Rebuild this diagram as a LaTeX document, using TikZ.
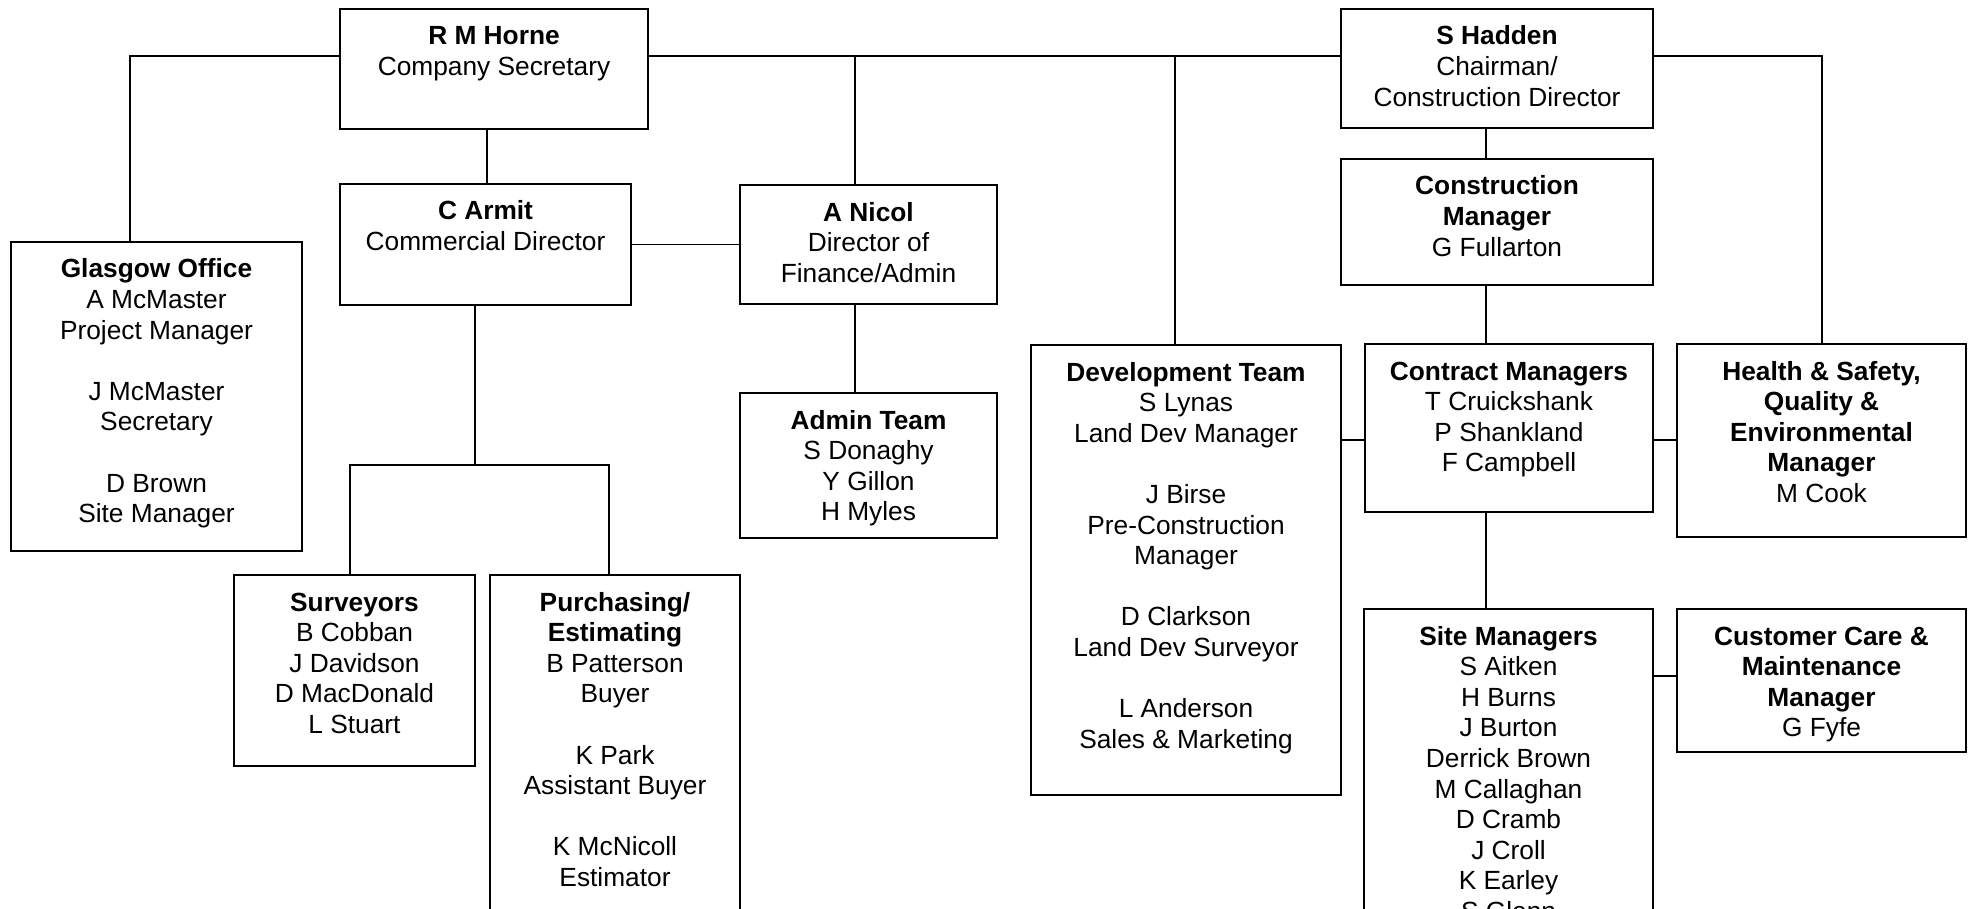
\documentclass[tikz,border=0pt]{standalone}
\usepackage{fontspec}
\setmainfont{Liberation Sans}
\usetikzlibrary{fit}
\tikzset{
  box/.style={draw=black, line width=1pt, inner sep=0pt},
  txt/.style={anchor=base, inner sep=0pt, font=\fontsize{13.15}{15.3}\selectfont},
  conn/.style={draw=black, line width=0.85pt},
}
\newcommand{\orgbox}[6]{%
  \node[box, fit={(#2,#3) (#4,#5)}] (#1) {};
  \node[txt] (#1t) at ([yshift=-18.5pt]#1.north) {\begin{tabular}[t]{@{}c@{}}#6\end{tabular}};
}
\begin{document}
\begin{tikzpicture}[x=0.5pt,y=-0.5pt]
\clip (0,0) rectangle (1969,909);
\fill[white] (0,0) rectangle (1969,909);

\orgbox{RMH}{340}{9}{648}{129}{\textbf{R M Horne}\\Company Secretary}
\orgbox{SH}{1341}{9}{1653}{128}{\textbf{S Hadden}\\Chairman/\\Construction Director}
\orgbox{CA}{340}{184}{631}{305}{\textbf{C Armit}\\Commercial Director}
\orgbox{AN}{740}{185}{997}{304}{\textbf{A Nicol}\\Director of\\Finance/Admin}
\orgbox{GL}{11}{242}{302}{551}{\textbf{Glasgow Office}\\A McMaster\\Project Manager\\ \\J McMaster\\Secretary\\ \\D Brown\\Site Manager}
\orgbox{AT}{740}{393}{997}{538}{\textbf{Admin Team}\\S Donaghy\\Y Gillon\\H Myles}
\orgbox{CM}{1341}{159}{1653}{285}{\textbf{Construction}\\\textbf{Manager}\\G Fullarton}
\orgbox{DT}{1031}{345}{1341}{795}{\textbf{Development Team}\\S Lynas\\Land Dev Manager\\ \\J Birse\\Pre-Construction\\Manager\\ \\D Clarkson\\Land Dev Surveyor\\ \\L Anderson\\Sales \& Marketing}
\orgbox{CTM}{1365}{344}{1653}{512}{\textbf{Contract Managers}\\T Cruickshank\\P Shankland\\F Campbell}
\orgbox{HS}{1677}{344}{1966}{537}{\textbf{Health \& Safety,}\\\textbf{Quality \&}\\\textbf{Environmental}\\\textbf{Manager}\\M Cook}
\orgbox{SV}{234}{575}{475}{766}{\textbf{Surveyors}\\B Cobban\\J Davidson\\D MacDonald\\L Stuart}
\orgbox{PU}{490}{575}{740}{960}{\textbf{Purchasing/}\\\textbf{Estimating}\\B Patterson\\Buyer\\ \\K Park\\Assistant Buyer\\ \\K McNicoll\\Estimator}
\orgbox{SM}{1364}{609}{1653}{980}{\textbf{Site Managers}\\S Aitken\\H Burns\\J Burton\\Derrick Brown\\M Callaghan\\D Cramb\\J Croll\\K Earley\\S Glenn}
\orgbox{CC}{1677}{609}{1966}{752}{\textbf{Customer Care \&}\\\textbf{Maintenance}\\\textbf{Manager}\\G Fyfe}

\coordinate (ty) at (0,56);
\coordinate (xg) at (130,0);
\coordinate (xan) at (855,0);
\coordinate (xdt) at (1175,0);
\coordinate (xhs) at (1822,0);
\coordinate (xrc) at (487,0);
\coordinate (xca) at (475,0);
\coordinate (yb) at (0,465);
\coordinate (xsv) at (350,0);
\coordinate (xpu) at (609,0);
\coordinate (xsh) at (1486,0);
\coordinate (ycm) at (0,440);
\coordinate (ysm) at (0,676);

\draw[conn] (GL.north -| xg) |- (RMH.west |- ty);
\draw[conn] (RMH.east |- ty) -- (SH.west |- ty);
\draw[conn] (xan |- ty) -- (AN.north -| xan);
\draw[conn] (xan |- AN.south) -- (AT.north -| xan);
\draw[conn] (xdt |- ty) -- (DT.north -| xdt);
\draw[conn] (SH.east |- ty) -| (HS.north -| xhs);
\draw[conn] (RMH.south -| xrc) -- (CA.north -| xrc);
\draw[conn] (CA.east) -- (AN.west);
\draw[conn] (CA.south -| xca) -- (xca |- yb);
\draw[conn] (SV.north -| xsv) |- (xpu |- yb) -- (PU.north -| xpu);
\draw[conn] (SH.south -| xsh) -- (CM.north -| xsh);
\draw[conn] (CM.south -| xsh) -- (CTM.north -| xsh);
\draw[conn] (CTM.south -| xsh) -- (SM.north -| xsh);
\draw[conn] (DT.east |- ycm) -- (CTM.west |- ycm);
\draw[conn] (CTM.east |- ycm) -- (HS.west |- ycm);
\draw[conn] (SM.east |- ysm) -- (CC.west |- ysm);
\end{tikzpicture}
\end{document}
